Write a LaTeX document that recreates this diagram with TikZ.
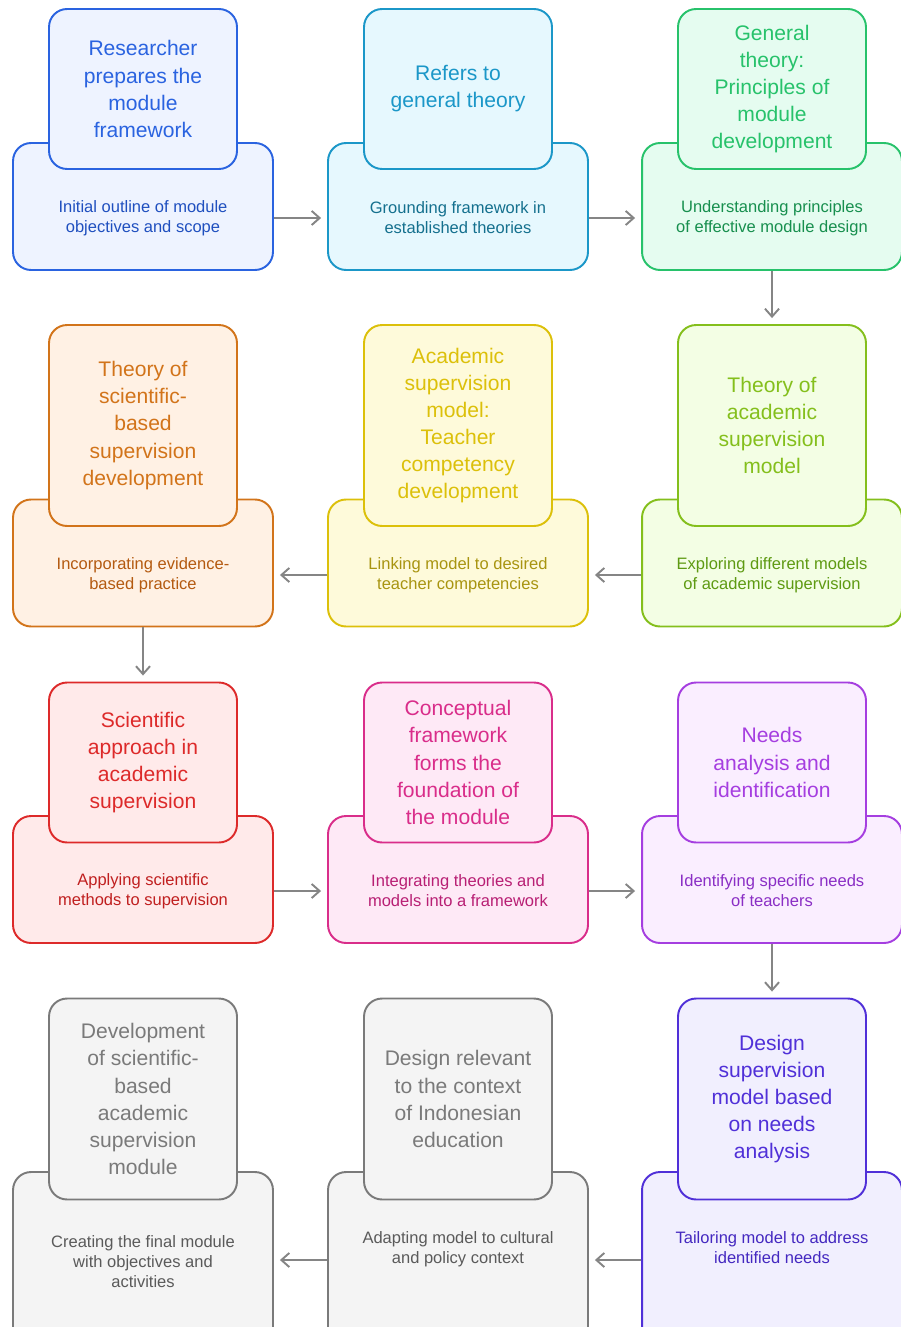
\documentclass[tikz,border=0pt]{standalone}
\usepackage{fontspec}
\setmainfont{Liberation Sans}
\usetikzlibrary{arrows.meta}
\definecolor{blueline}{HTML}{2A63E0}
\definecolor{bluefill}{HTML}{EEF3FF}
\definecolor{bluetext}{HTML}{1F4FBF}
\definecolor{cyanline}{HTML}{1B97C8}
\definecolor{cyanfill}{HTML}{E6F8FE}
\definecolor{cyantext}{HTML}{14708E}
\definecolor{greenline}{HTML}{27C26B}
\definecolor{greenfill}{HTML}{E5FCF0}
\definecolor{greentext}{HTML}{178F4E}
\definecolor{limeline}{HTML}{84BF1C}
\definecolor{limefill}{HTML}{F3FEE4}
\definecolor{limetext}{HTML}{5E9A12}
\definecolor{yellowline}{HTML}{DCC00A}
\definecolor{yellowfill}{HTML}{FEFADA}
\definecolor{yellowtext}{HTML}{A89410}
\definecolor{orangeline}{HTML}{D2741A}
\definecolor{orangefill}{HTML}{FFF1E4}
\definecolor{orangetext}{HTML}{B45A10}
\definecolor{redline}{HTML}{DD2A2A}
\definecolor{redfill}{HTML}{FFEAEA}
\definecolor{redtext}{HTML}{C01F1F}
\definecolor{pinkline}{HTML}{D92D8A}
\definecolor{pinkfill}{HTML}{FEE9F6}
\definecolor{pinktext}{HTML}{B81F74}
\definecolor{purpleline}{HTML}{A53EE0}
\definecolor{purplefill}{HTML}{FAEEFF}
\definecolor{purpletext}{HTML}{8A2EC5}
\definecolor{indigoline}{HTML}{5030D8}
\definecolor{indigofill}{HTML}{F1EFFE}
\definecolor{indigotext}{HTML}{4428C0}
\definecolor{grayline}{HTML}{7A7A7A}
\definecolor{grayfill}{HTML}{F4F4F4}
\definecolor{graytext}{HTML}{5A5A5A}
\definecolor{arrowgray}{HTML}{858585}
\tikzset{
	basebox/.style={
			draw=#1line, fill=#1fill, line width=1.1pt, rounded corners=0.36cm,
			minimum width=5.2cm, minimum height=2.54cm, inner sep=0pt
		},
	headbox/.style={
			draw=#1line, fill=#1fill, line width=1.1pt, rounded corners=0.36cm,
			minimum width=3.76cm, minimum height=3.2cm, inner sep=0pt,
			text=#1line, align=center, font=\fontsize{12}{15.4}\selectfont
		},
	desc/.style={
			text=#1text, align=center, font=\fontsize{9.4}{11.4}\selectfont, inner sep=0pt
		},
	flow/.style={
			draw=arrowgray, line width=1.1pt, shorten >=0.12cm,
			-{Straight Barb[length=4.5pt,width=8pt]}
		}
}

\begin{document}
\begin{tikzpicture}[x=0.02cm, y=-0.02cm]
        \useasboundingbox (0, 0) rectangle (901, 1327);
        \clip (0, 0) rectangle (901, 1327);
        \node[basebox=blue] (b1) at (143, 206.5) {};
        \node[headbox=blue] (h1) at (143, 89) {Researcher\\prepares the\\module\\framework};
        \node[desc=blue] (d1) at (143, 218) {Initial outline of module\\objectives and scope};
        \node[basebox=cyan] (b2) at (458, 206.5) {};
        \node[headbox=cyan] (h2) at (458, 89) {Refers to\\general theory};
        \node[desc=cyan] (d2) at (458, 218) {Grounding framework in\\established theories};
        \node[basebox=green] (b3) at (772, 206.5) {};
        \node[headbox=green] (h3) at (772, 89) {General\\theory:\\Principles of\\module\\development};
        \node[desc=green] (d3) at (772, 218) {Understanding principles\\of effective module design};
        \node[basebox=lime] (b4) at (772, 563) {};
        \node[headbox=lime, minimum height=4.02cm] (h4) at (772, 425.5) {Theory of\\academic\\supervision\\model};
        \node[desc=lime] (d4) at (772, 575) {Exploring different models\\of academic supervision};
        \node[basebox=yellow] (b5) at (458, 563) {};
        \node[headbox=yellow, minimum height=4.02cm] (h5) at (458, 425.5) {Academic\\supervision\\model:\\Teacher\\competency\\development};
        \node[desc=yellow] (d5) at (458, 575) {Linking model to desired\\teacher competencies};
        \node[basebox=orange] (b6) at (143, 563) {};
        \node[headbox=orange, minimum height=4.02cm] (h6) at (143, 425.5) {Theory of\\scientific-\\based\\supervision\\development};
        \node[desc=orange] (d6) at (143, 575) {Incorporating evidence-\\based practice};
        \node[basebox=red] (b7) at (143, 879.5) {};
        \node[headbox=red] (h7) at (143, 762.5) {Scientific\\approach in\\academic\\supervision};
        \node[desc=red] (d7) at (143, 891) {Applying scientific\\methods to supervision};
        \node[basebox=pink] (b8) at (458, 879.5) {};
        \node[headbox=pink] (h8) at (458, 762.5) {Conceptual\\framework\\forms the\\foundation of\\the module};
        \node[desc=pink] (d8) at (458, 891) {Integrating theories and\\models into a framework};
        \node[basebox=purple] (b9) at (772, 879.5) {};
        \node[headbox=purple] (h9) at (772, 762.5) {Needs\\analysis and\\identification};
        \node[desc=purple] (d9) at (772, 891) {Identifying specific needs\\of teachers};
        \node[basebox=indigo, minimum height=3.52cm] (b10) at (772, 1260) {};
        \node[headbox=indigo, minimum height=4.02cm] (h10) at (772, 1099) {Design\\supervision\\model based\\on needs\\analysis};
        \node[desc=indigo] (d10) at (772, 1248) {Tailoring model to address\\identified needs};
        \node[basebox=gray, minimum height=3.52cm] (b11) at (458, 1260) {};
        \node[headbox=gray, minimum height=4.02cm] (h11) at (458, 1099) {Design relevant\\to the context\\of Indonesian\\education};
        \node[desc=gray] (d11) at (458, 1249) {Adapting model to cultural\\and policy context};
        \node[basebox=gray, minimum height=3.52cm] (b12) at (143, 1260) {};
        \node[headbox=gray, minimum height=4.02cm] (h12) at (143, 1099) {Development\\of scientific-\\based\\academic\\supervision\\module};
        \node[desc=gray] (d12) at (143, 1262) {Creating the final module\\with objectives and\\activities};
        \draw[flow] (b1.east |- d1) -- (b2.west |- d1);
        \draw[flow] (b2.east |- d2) -- (b3.west |- d2);
        \draw[flow] (b3.south) -- (h4.north);
        \draw[flow] (b4.west |- d4) -- (b5.east |- d4);
        \draw[flow] (b5.west |- d5) -- (b6.east |- d5);
        \draw[flow] (b6.south) -- (h7.north);
        \draw[flow] (b7.east |- d7) -- (b8.west |- d7);
        \draw[flow] (b8.east |- d8) -- (b9.west |- d8);
        \draw[flow] (b9.south) -- (h10.north);
        \draw[flow] (b10.west) -- (b11.east);
        \draw[flow] (b11.west) -- (b12.east);
    \end{tikzpicture}
\end{document}
